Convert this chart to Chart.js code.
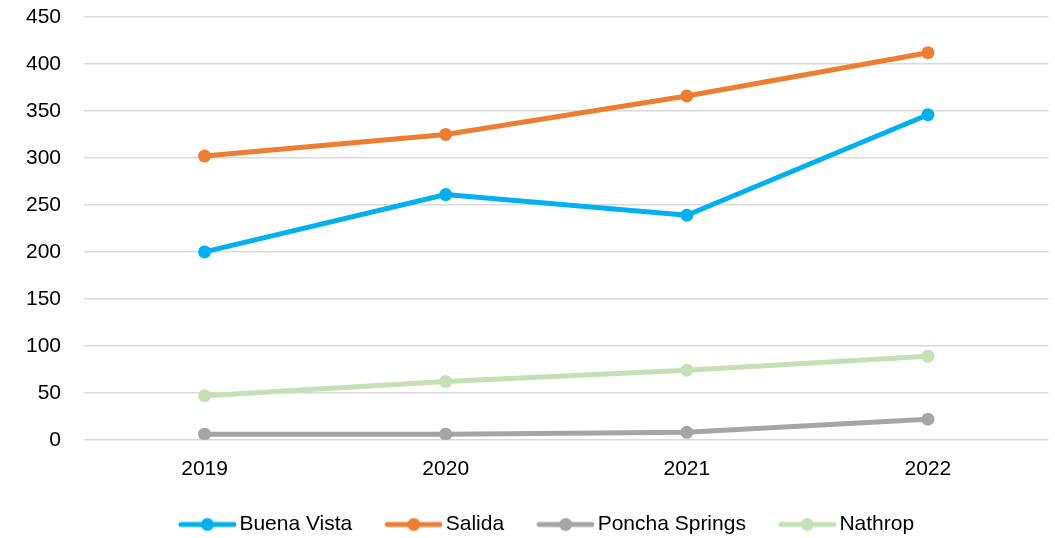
<!DOCTYPE html>
<html>
<head>
<meta charset="utf-8">
<script src="https://cdn.jsdelivr.net/npm/chart.js@4"></script>
<style>
  html, body { margin: 0; padding: 0; background: #fff; overflow: hidden; }
  #wrap { width: 1055px; height: 538px; }
</style>
</head>
<body>
<div id="wrap"><canvas id="line-chart"></canvas></div>
<script>
const years = ["2019", "2020", "2021", "2022"];
const buenaVista = [200, 261, 239, 346];
const salida = [302, 325, 366, 412];
const ponchaSprings = [6, 6, 8, 22];
const nathrop = [47, 62, 74, 89];

const FONT = "'Liberation Sans', Arial, sans-serif";

// little line+dot swatch for the legend
function swatch(color) {
  const c = document.createElement('canvas');
  c.width = 87; c.height = 16;
  const g = c.getContext('2d');
  g.strokeStyle = color;
  g.lineWidth = 5;
  g.lineCap = 'round';
  g.beginPath(); g.moveTo(32, 8); g.lineTo(85, 8); g.stroke();
  g.fillStyle = color;
  g.beginPath(); g.arc(58.5, 8, 6.5, 0, Math.PI * 2); g.fill();
  return c;
}

function series(label, data, color) {
  return {
    label: label,
    data: data,
    borderColor: color,
    backgroundColor: color,
    borderWidth: 5,
    pointRadius: 6.5,
    pointHoverRadius: 6.5,
    pointBorderWidth: 0,
    tension: 0
  };
}

// nudge legend a bit to the right
const legendShift = {
  id: 'legendShift',
  afterLayout(chart) {
    chart.legend.left += 8;
    chart.legend.right += 8;
  }
};

new Chart(document.getElementById("line-chart"), {
  type: 'line',
  data: {
    labels: years,
    datasets: [
      series("Buena Vista", buenaVista, "#00B0F0"),
      series("Salida", salida, "#ED7D31"),
      series("Poncha Springs", ponchaSprings, "#A5A5A5"),
      series("Nathrop", nathrop, "#C5E0B4")
    ]
  },
  plugins: [legendShift],
  options: {
    responsive: true,
    maintainAspectRatio: false,
    animation: false,
    layout: { padding: { left: 3, right: 4, top: 17, bottom: -7 } },
    scales: {
      x: {
        offset: true,
        grid: { display: false, drawTicks: false },
        border: { display: false },
        ticks: { color: '#000', font: { family: FONT, size: 21 }, padding: 17 },
        afterFit: function(s) { s.height += 5; s.paddingRight = 0; s.paddingLeft = 0; }
      },
      y: {
        min: 0, max: 450,
        grid: { color: '#D9D9D9', lineWidth: 1.5, drawTicks: false },
        border: { display: false },
        ticks: { stepSize: 50, color: '#000', font: { family: FONT, size: 21 }, padding: 23 },
        afterFit: function(s) { s.paddingTop = 12; }
      }
    },
    plugins: {
      tooltip: { enabled: false },
      legend: {
        position: 'bottom',
        labels: {
          color: '#000',
          font: { family: FONT, size: 21 },
          usePointStyle: true,
          pointStyleWidth: 73,
          boxHeight: 16,
          padding: 10,
          generateLabels: function(chart) {
            return chart.data.datasets.map(function(ds, i) {
              return {
                text: ds.label,
                fontColor: '#000',
                pointStyle: swatch(ds.borderColor),
                datasetIndex: i,
                hidden: false,
                lineWidth: 0,
                strokeStyle: 'transparent',
                fillStyle: 'transparent'
              };
            });
          }
        }
      }
    }
  }
});
</script>
</body>
</html>
